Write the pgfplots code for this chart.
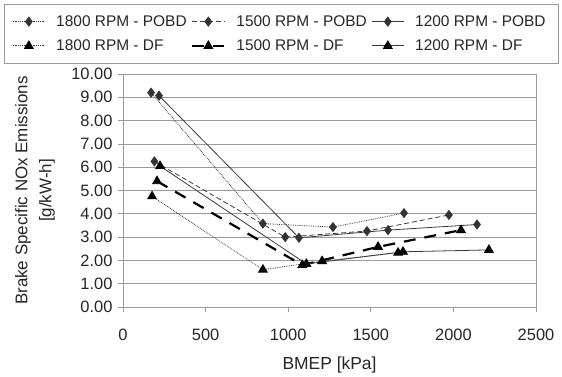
\documentclass[border=0pt]{standalone}
\usepackage{pgfplots}
\pgfplotsset{compat=1.18}
\usepackage{fontspec}
\setmainfont{Liberation Sans}
\definecolor{ln}{HTML}{3A3A3A}
\definecolor{mk}{HTML}{333333}
\definecolor{gr}{HTML}{9A9A9A}
\newcommand{\legtxt}[1]{\makebox[133bp][l]{#1}}
\begin{document}
\begin{tikzpicture}[x=1bp,y=1bp]
\path (0,0) rectangle (562,372);
\begin{axis}[
  at={(123bp,65bp)}, anchor=south west,
  scale only axis, width=413bp, height=233bp,
  xmin=0, xmax=2500, ymin=0, ymax=10,
  xtick={0,500,...,2500}, ytick={0,1,...,10},
  ymajorgrids, grid style={gr, line width=0.8pt},
  axis line style={gr, line width=0.9pt},
  tick style={gr, line width=0.8pt},
  tick align=outside, major tick length=5bp,
  xtick pos=bottom, ytick pos=left,
  /pgf/number format/assume math mode=true,
  x tick label style={/pgf/number format/1000 sep={}, font=\fontsize{16.5}{18}\selectfont, text=black!85, yshift=-13bp},
  y tick label style={/pgf/number format/.cd, fixed, fixed zerofill, precision=2, /tikz/.cd, font=\fontsize{16.5}{18}\selectfont, text=black!85, xshift=-2bp},
  xlabel={BMEP [kPa]},
  xlabel style={font=\fontsize{17.5}{19}\selectfont, text=black!85, yshift=-10bp},
  ylabel={Brake Specific NOx Emissions\\{}[g/kW-h]},
  ylabel style={at={(axis description cs:-0.213,0.5)}, anchor=center, align=center, font=\fontsize{17}{24}\selectfont, text=black!85},
  legend columns=3,
  legend style={at={(-0.288,1.3)}, anchor=north west, draw=gr, line width=0.8pt,
    font=\fontsize{15.5}{17}\selectfont, text=black!85, inner xsep=8bp, inner ysep=9bp,
    row sep=8bp, /tikz/every even column/.append style={column sep=0bp},
    /tikz/every odd column/.append style={column sep=9bp}},
  legend image code/.code={\draw[mark repeat=2,mark phase=2] plot coordinates {(0bp,0bp) (16bp,0bp) (32bp,0bp)};},
  every axis plot/.append style={line width=0.8pt},
]
\addplot[ln, densely dotted, mark=diamond*, mark size=4.5bp, mark options={solid, fill=mk, draw=mk}] coordinates {(170,9.20) (847,3.58) (1271,3.43) (1701,4.03)};
\addlegendentry{\legtxt{1800 RPM - POBD}}
\addplot[ln, dash pattern=on 5pt off 3pt, mark=diamond*, mark size=4.5bp, mark options={solid, fill=mk, draw=mk}] coordinates {(190,6.25) (982,3.00) (1477,3.26) (1973,3.95)};
\addlegendentry{\legtxt{1500 RPM - POBD}}
\addplot[ln, solid, mark=diamond*, mark size=4.5bp, mark options={solid, fill=mk, draw=mk}] coordinates {(218,9.07) (1065,2.97) (1604,3.30) (2143,3.54)};
\addlegendentry{\legtxt{1200 RPM - POBD}}
\addplot[ln, densely dotted, mark=triangle*, mark size=5bp, mark options={solid, fill=black, draw=black}] coordinates {(176,4.75) (847,1.60) (1205,1.97) (1665,2.33)};
\addlegendentry{\legtxt{1800 RPM - DF}}
\addplot[black, line width=2.2pt, dash pattern=on 12pt off 9pt, mark=triangle*, mark size=5bp, mark options={solid, line width=0.8pt, fill=black, draw=black}] coordinates {(206,5.40) (1085,1.80) (1544,2.58) (2046,3.30)};
\addlegendentry{\legtxt{1500 RPM - DF}}
\addplot[ln, solid, mark=triangle*, mark size=5bp, mark options={solid, fill=black, draw=black}] coordinates {(224,6.05) (1110,1.85) (1695,2.37) (2215,2.45)};
\addlegendentry{\legtxt{1200 RPM - DF}}
\end{axis}
\end{tikzpicture}
\end{document}
